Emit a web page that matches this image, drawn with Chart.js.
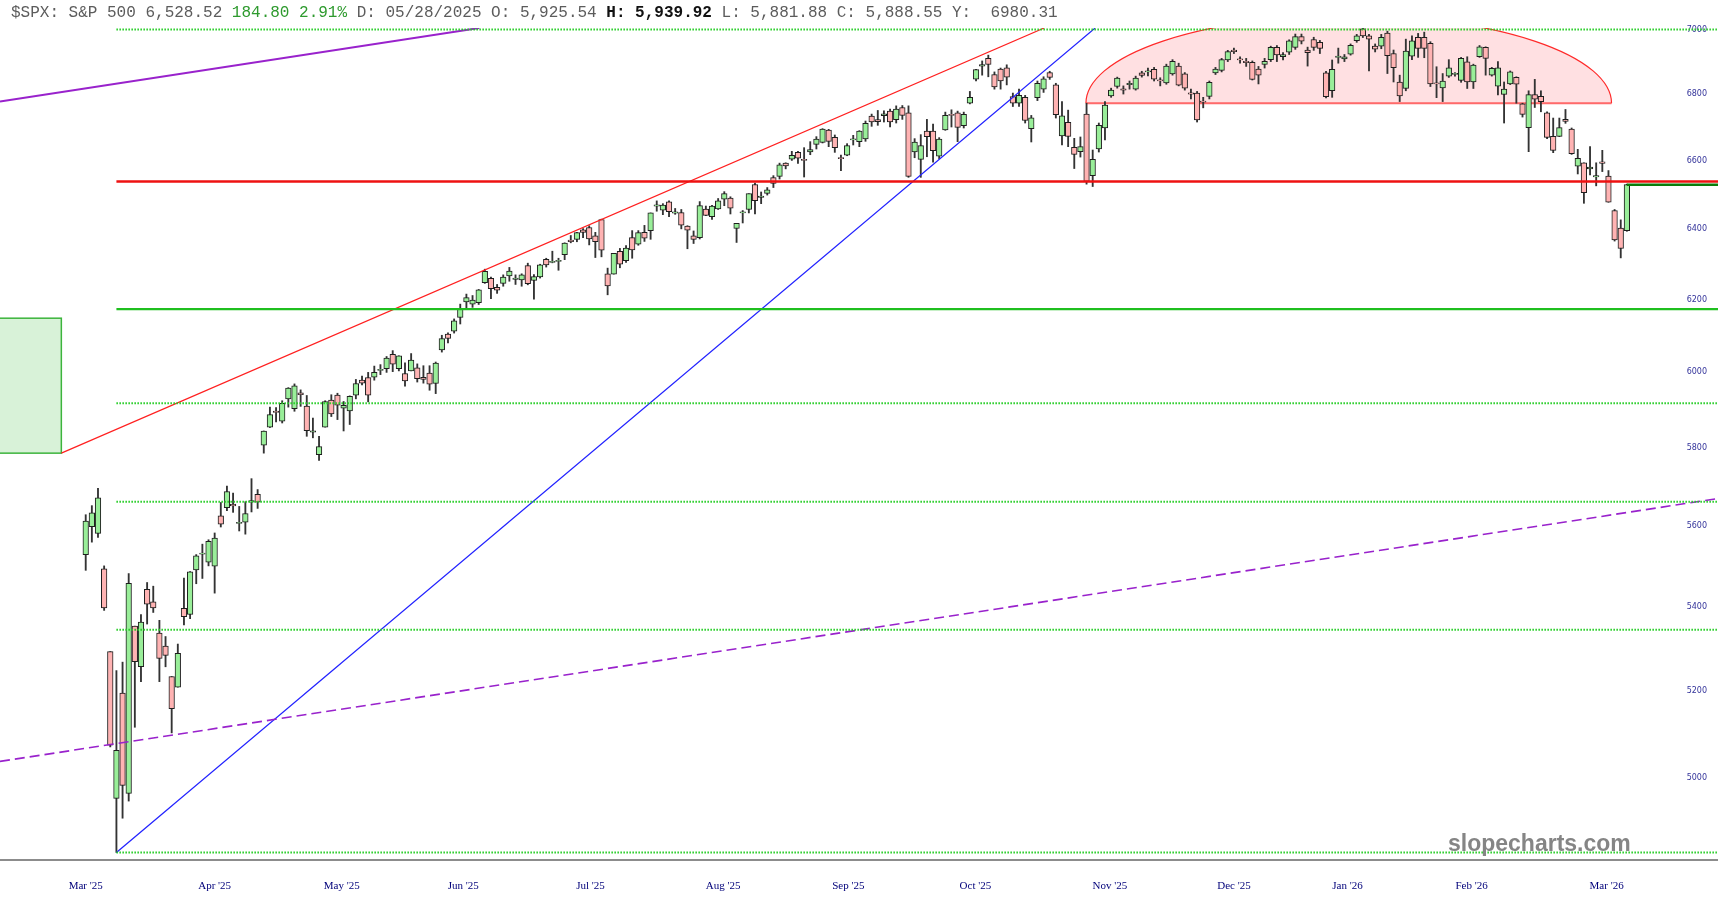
<!DOCTYPE html>
<html>
<head>
<meta charset="utf-8">
<script src="https://cdn.jsdelivr.net/npm/chart.js@4.4.1/dist/chart.umd.min.js"></script>
<style>
  body { margin: 0; background: #fff; }
  #wrap { position: relative; width: 1718px; height: 900px; }
  #hdr { position: absolute; left: 11px; top: 4px; font: 16px 'Liberation Mono', monospace; color: #5c5c5c; white-space: pre; }
  #hdr .up { color: #2e9a2e; }
  #hdr b { color: #111; }
  #mark { position: absolute; left: 1448px; top: 830px; font: bold 23px 'Liberation Sans', Arial, sans-serif; color: #858585; }
</style>
</head>
<body>
<div id="wrap">
  <canvas id="chart" width="1718" height="900"></canvas>
  <div id="hdr">$SPX: S&amp;P 500 6,528.52 <span class="up">184.80 2.91%</span> D: 05/28/2025 O: 5,925.54 <b>H: 5,939.92</b> L: 5,881.88 C: 5,888.55 Y:  6980.31</div>
  <div id="mark">slopecharts.com</div>
</div>
<script>
// daily candles, index 0 = 31 Mar 2025
const openP = [
  5528,5598,5581,5493,5292,4954,5194,4965,5353,5256,
  5442,5412,5336,5305,5233,5208,5396,5381,5490,5529,
  5509,5499,5625,5646,5655,5606,5609,5660,5680,5807,
  5854,5896,5870,5929,5903,5945,5910,5841,5782,5854,
  5926,5939,5904,5897,5939,5979,5986,5987,6005,6010,
  6049,6010,5997,6004,6012,5987,5998,5970,6061,6104,
  6112,6150,6193,6187,6191,6247,6259,6234,6245,6266,
  6256,6255,6295,6253,6263,6313,6304,6307,6326,6368,
  6370,6397,6404,6380,6427,6272,6271,6336,6309,6375,
  6356,6390,6395,6466,6454,6478,6445,6447,6408,6380,
  6375,6457,6435,6458,6486,6489,6401,6446,6456,6529,
  6491,6503,6549,6553,6592,6604,6624,6603,6625,6648,
  6654,6691,6669,6608,6616,6661,6656,6664,6733,6722,
  6734,6748,6722,6759,6743,6625,6603,6688,6688,6613,
  6691,6738,6743,6704,6772,6846,6886,6910,6860,6877,
  6881,6792,6772,6790,6695,6789,6815,6866,6828,6673,
  6714,6639,6626,6739,6555,6634,6697,6794,6823,6814,
  6829,6815,6865,6868,6876,6841,6834,6862,6886,6862,
  6802,6803,6776,6793,6865,6873,6905,6936,6907,6899,
  6898,6877,6891,6906,6944,6915,6929,6944,6978,6936,
  6969,6960,6865,6810,6913,6908,6923,6965,7002,6980,
  6948,6948,6989,6925,6837,6817,6917,6976,6976,6957,
  6834,6819,6855,6860,6842,6899,6837,6915,6944,6858,
  6824,6799,6831,6851,6770,6698,6798,6793,6743,6672,
  6672,6723,6694,6583,6593,6575,6551,6596,6554,6453,
  6402,6395
];
const highP = [
  5628,5651,5695,5500,5292,5247,5267,5481,5353,5381,
  5459,5450,5367,5328,5233,5310,5470,5486,5528,5554,
  5565,5582,5659,5701,5683,5649,5661,5720,5692,5844,
  5907,5906,5924,5959,5969,5953,5938,5878,5830,5924,
  5940,5944,5922,5937,5981,5990,6000,6017,6021,6043,
  6059,6045,6026,6051,6023,6018,6018,6028,6101,6108,
  6146,6187,6215,6211,6228,6285,6263,6242,6269,6290,
  6269,6272,6302,6270,6299,6316,6336,6316,6360,6381,
  6390,6401,6409,6390,6428,6288,6330,6344,6352,6395,
  6395,6410,6446,6481,6473,6481,6459,6456,6409,6394,
  6479,6466,6468,6488,6508,6493,6416,6453,6502,6533,
  6507,6520,6555,6592,6593,6627,6627,6638,6656,6671,
  6695,6693,6676,6616,6650,6675,6689,6718,6739,6750,
  6749,6754,6764,6765,6764,6665,6677,6723,6709,6668,
  6745,6752,6748,6745,6808,6876,6902,6920,6868,6880,
  6890,6803,6815,6796,6735,6840,6853,6870,6833,6777,
  6751,6666,6670,6772,6631,6712,6777,6818,6852,6825,
  6840,6855,6870,6880,6882,6850,6892,6906,6895,6866,
  6815,6808,6790,6840,6882,6910,6935,6942,6915,6910,
  6902,6885,6910,6948,6950,6928,6968,6986,6986,6945,
  6976,6966,6870,6905,6942,6922,6955,6985,7005,6985,
  6955,6985,6995,6936,6858,6970,6980,6988,6992,6962,
  6884,6863,6906,6866,6913,6915,6892,6950,6946,6882,
  6900,6837,6871,6853,6772,6810,6845,6810,6746,6727,
  6727,6753,6697,6633,6593,6641,6593,6630,6570,6456,
  6426,6530
];
const lowP = [
  5489,5559,5571,5391,5070,4835,4910,4948,5115,5221,
  5358,5386,5221,5256,5102,5208,5356,5371,5456,5469,
  5500,5433,5597,5638,5634,5587,5579,5635,5644,5786,
  5853,5868,5865,5907,5896,5909,5830,5826,5767,5854,
  5882,5874,5844,5861,5929,5966,5921,5979,5994,6000,
  6002,6004,5963,6004,5974,5971,5952,5943,6055,6080,
  6107,6132,6175,6178,6186,6245,6202,6217,6237,6251,
  6242,6237,6241,6201,6260,6291,6303,6282,6312,6360,
  6363,6375,6354,6318,6320,6213,6271,6289,6304,6316,
  6353,6364,6370,6451,6441,6435,6442,6400,6343,6358,
  6371,6438,6427,6456,6467,6443,6361,6417,6446,6443,
  6473,6498,6520,6545,6575,6600,6591,6551,6617,6634,
  6652,6641,6624,6570,6614,6646,6641,6657,6702,6705,
  6715,6700,6712,6723,6550,6608,6550,6611,6595,6605,
  6690,6700,6656,6697,6770,6840,6858,6853,6815,6815,
  6828,6762,6762,6712,6655,6780,6805,6845,6727,6646,
  6641,6576,6610,6530,6523,6625,6661,6790,6818,6800,
  6815,6812,6852,6856,6840,6825,6830,6858,6825,6812,
  6785,6715,6758,6785,6860,6868,6900,6925,6895,6885,
  6843,6831,6880,6900,6900,6905,6922,6938,6955,6886,
  6935,6925,6788,6790,6895,6900,6920,6960,6975,6871,
  6930,6940,6863,6837,6777,6810,6906,6913,6912,6823,
  6789,6777,6851,6855,6836,6817,6817,6913,6858,6855,
  6797,6712,6829,6772,6730,6626,6759,6746,6665,6623,
  6671,6711,6618,6560,6474,6557,6525,6567,6477,6365,
  6317,6393
];
const closeP = [
  5612,5633,5671,5397,5074,5062,4983,5457,5268,5363,
  5406,5397,5276,5283,5158,5288,5376,5485,5525,5529,
  5561,5569,5604,5687,5650,5607,5631,5664,5660,5844,
  5887,5893,5917,5958,5964,5940,5845,5842,5803,5922,
  5889,5912,5912,5936,5970,5971,5939,6000,6006,6039,
  6022,6045,5977,6033,5983,5981,5968,6025,6092,6092,
  6141,6173,6205,6198,6227,6279,6230,6226,6263,6280,
  6260,6269,6244,6264,6297,6297,6306,6310,6359,6363,
  6389,6390,6371,6363,6339,6238,6330,6299,6345,6340,
  6389,6373,6446,6467,6469,6450,6449,6411,6396,6370,
  6467,6439,6466,6481,6502,6460,6416,6448,6502,6482,
  6495,6513,6532,6587,6584,6615,6607,6600,6632,6664,
  6694,6657,6638,6605,6644,6661,6688,6711,6715,6716,
  6740,6715,6754,6735,6553,6655,6644,6671,6629,6664,
  6735,6735,6699,6738,6790,6875,6891,6891,6822,6840,
  6852,6772,6796,6720,6728,6833,6847,6851,6737,6734,
  6672,6618,6641,6538,6603,6705,6766,6812,6849,6812,
  6829,6849,6857,6870,6846,6840,6886,6901,6827,6818,
  6800,6721,6775,6836,6877,6906,6931,6931,6905,6897,
  6845,6858,6901,6944,6921,6922,6965,6978,6964,6928,
  6944,6941,6792,6876,6915,6915,6951,6980,6980,6970,
  6939,6976,6918,6881,6794,6933,6965,6941,6941,6831,
  6831,6840,6881,6862,6910,6837,6889,6946,6910,6879,
  6881,6815,6868,6830,6738,6798,6784,6777,6669,6630,
  6698,6717,6620,6606,6505,6580,6555,6591,6477,6368,
  6343.72,6528.52
];

// axis labels
const monthLabels = ["Mar '25","Apr '25","May '25","Jun '25","Jul '25","Aug '25","Sep '25","Oct '25","Nov '25","Dec '25","Jan '26","Feb '26","Mar '26"];
const monthPos = [0, 21.0, 41.7, 61.5, 82.2, 103.8, 124.2, 144.9, 166.8, 187.0, 205.5, 225.7, 247.7];
const priceTicks = [5000, 5200, 5400, 5600, 5800, 6000, 6200, 6400, 6600, 6800, 7000];

// drawn levels and trend lines (index, price)
const dottedLevels = [7000, 5917, 5661, 5344, 4835];
const greenLevel = 6173;
const redLevel = 6538;
const lastPrice = 6528.52;
const levelStart = 5;
const purpleLine = [[-13.96, 6777], [64.1, 7005]];
const purpleDashed = [[-13.96, 5037], [265.84, 5669]];
const wedgeRed = [[-3.97, 5786], [156.1, 7005]];
const blueLine = [[5, 4835], [164.4, 7005]];
const zoneBox = { from: -20, to: -3.97, top: 6148, bottom: 5786 };
const dome = { from: 162.9, to: 248.5, base: 6772, top: 7045 };

const xMin = -13.96, xMax = 265.84;

const bodies = openP.map((o, i) => ({ x: i, y: [o, closeP[i]] }));
const wicks = openP.map((o, i) => ({ x: i, y: [lowP[i], highP[i]] }));
const bodyColors = openP.map((o, i) => closeP[i] >= o ? '#99ee99' : '#ffb3b3');

function seg(points, color, width, dash) {
  return {
    type: 'line',
    data: points.map(p => ({ x: p[0], y: p[1] })),
    borderColor: color,
    borderWidth: width,
    borderDash: dash || [],
    pointRadius: 0,
    fill: false,
    tension: 0,
    order: 0
  };
}

const lineSets = [];
dottedLevels.forEach(v => lineSets.push(seg([[levelStart, v], [xMax, v]], '#22cc22', 2, [1.5, 1.5])));
lineSets.push(seg([[levelStart, greenLevel], [xMax, greenLevel]], '#1fbf1f', 2.2));
lineSets.push(seg([[levelStart, redLevel], [xMax, redLevel]], '#ee1111', 2.5));
lineSets.push(seg(purpleLine, '#9922cc', 2));
lineSets.push(seg(purpleDashed, '#9922cc', 1.6, [10, 5]));
lineSets.push(seg(wedgeRed, '#ff2020', 1.2));
lineSets.push(seg(blueLine, '#2222ff', 1.2));
lineSets.push(seg([[openP.length - 1, lastPrice], [xMax, lastPrice]], '#0b7d0b', 2.5));

// zone box and dome drawn under the candles
const shapes = {
  id: 'shapes',
  beforeDatasetsDraw(chart) {
    const { ctx, chartArea: a, scales: { x, y } } = chart;
    ctx.save();
    ctx.beginPath();
    ctx.rect(a.left, a.top, a.right - a.left, a.bottom - a.top);
    ctx.clip();

    const bx0 = x.getPixelForValue(zoneBox.from), bx1 = x.getPixelForValue(zoneBox.to);
    const by0 = y.getPixelForValue(zoneBox.top), by1 = y.getPixelForValue(zoneBox.bottom);
    ctx.fillStyle = 'rgba(60,190,60,0.2)';
    ctx.fillRect(bx0, by0, bx1 - bx0, by1 - by0);
    ctx.strokeStyle = '#3cb43c';
    ctx.lineWidth = 1.5;
    ctx.strokeRect(bx0, by0, bx1 - bx0, by1 - by0);

    const x0 = x.getPixelForValue(dome.from), x1 = x.getPixelForValue(dome.to);
    const cx = (x0 + x1) / 2, rx = (x1 - x0) / 2;
    const cy = y.getPixelForValue(dome.base), ry = cy - y.getPixelForValue(dome.top);
    ctx.beginPath();
    ctx.ellipse(cx, cy, rx, ry, 0, Math.PI, 2 * Math.PI);
    ctx.closePath();
    ctx.fillStyle = 'rgba(255,0,20,0.12)';
    ctx.fill();
    ctx.beginPath();
    ctx.ellipse(cx, cy, rx, ry, 0, Math.PI, 2 * Math.PI);
    ctx.strokeStyle = '#ff2a2a';
    ctx.lineWidth = 1.2;
    ctx.stroke();
    ctx.beginPath();
    ctx.moveTo(x0, cy);
    ctx.lineTo(x1, cy);
    ctx.strokeStyle = 'rgba(255,70,70,0.8)';
    ctx.lineWidth = 2;
    ctx.stroke();
    ctx.restore();
  }
};

new Chart(document.getElementById('chart').getContext('2d'), {
  type: 'bar',
  data: {
    datasets: [
      ...lineSets,
      {
        data: bodies,
        backgroundColor: bodyColors,
        borderColor: '#1e1e1e',
        borderWidth: 1,
        borderSkipped: false,
        barThickness: 5.6,
        minBarLength: 1.2,
        grouped: false,
        order: 1
      },
      {
        data: wicks,
        backgroundColor: '#333',
        barThickness: 1.2,
        grouped: false,
        order: 2
      }
    ]
  },
  options: {
    responsive: false,
    devicePixelRatio: 1,
    animation: false,
    events: [],
    layout: { padding: { top: 28, left: 0, right: 0, bottom: 0 } },
    plugins: { legend: { display: false }, tooltip: { enabled: false } },
    scales: {
      x: {
        type: 'linear',
        min: xMin,
        max: xMax,
        offset: false,
        bounds: 'data',
        grid: { display: false },
        border: { display: true, color: '#8c8c8c', width: 2 },
        afterBuildTicks: s => { s.ticks = monthPos.map(v => ({ value: v })); },
        afterFit: s => { s.height = 40; },
        ticks: {
          autoSkip: false,
          maxRotation: 0,
          padding: 12,
          color: '#00007a',
          font: { family: 'Liberation Serif', size: 11 },
          callback: (v, i) => monthLabels[i]
        }
      },
      y: {
        type: 'logarithmic',
        position: 'right',
        min: 4818.6,
        max: 7005,
        bounds: 'data',
        grid: { display: false },
        border: { display: false },
        afterBuildTicks: s => { s.ticks = priceTicks.map(v => ({ value: v })); },
        afterFit: s => { s.width = 0; },
        ticks: {
          mirror: true,
          padding: -11,
          color: '#33339a',
          font: { family: 'DejaVu Sans', size: 8 },
          callback: v => String(v)
        }
      }
    }
  },
  plugins: [shapes]
});
</script>
</body>
</html>
